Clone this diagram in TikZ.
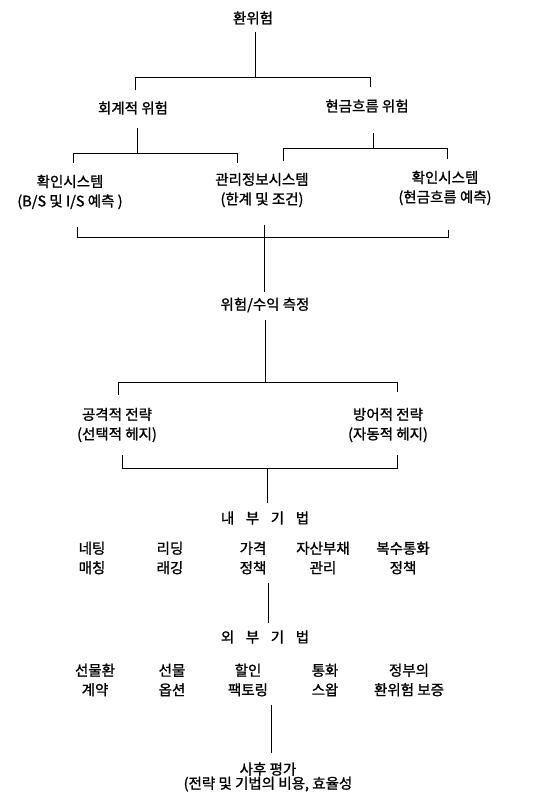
\documentclass[tikz,border=0pt]{standalone}
\usepackage{fontspec}
\newfontfamily\kr[AutoFakeBold=1.2]{Noto Sans CJK KR}
\begin{document}
\begin{tikzpicture}[x=1pt,y=-1pt,
  lbl/.style={font=\kr\bfseries\fontsize{14.5}{19.5}\selectfont, inner sep=0pt, align=center},
  ln/.style={line width=0.8pt, black}]
\useasboundingbox (0,0) rectangle (555,801);
% nodes
\node[lbl] (root) at (253,18) {환위험};
\node[lbl] (acc) at (133,108) {회계적 위험};
\node[lbl] (cash) at (367,106) {현금흐름 위험};
\node[lbl] (chk1) at (70,192) {확인시스템\\(B/S 및 I/S 예측 )};
\node[lbl] (mis) at (262,190) {관리정보시스템\\(한계 및 조건)};
\node[lbl] (chk2) at (445,188) {확인시스템\\(현금흐름 예측)};
\node[lbl] (meas) at (265,305) {위험/수익 측정};
\node[lbl] (off) at (117,425) {공격적 전략\\(선택적 헤지)};
\node[lbl] (def) at (388,425) {방어적 전략\\(자동적 헤지)};
\node[lbl] (intl) at (265,518) {내\hspace{0.8em}부\hspace{0.8em}기\hspace{0.8em}법};
\node[lbl] (i1) at (92,558) {네팅\\매칭};
\node[lbl] (i2) at (170,558) {리딩\\래깅};
\node[lbl] (i3) at (253,558) {가격\\정책};
\node[lbl] (i4) at (323,558) {자산부채\\관리};
\node[lbl] (i5) at (403,558) {복수통화\\정책};
\node[lbl] (ext) at (265,637) {외\hspace{0.8em}부\hspace{0.8em}기\hspace{0.8em}법};
\node[lbl] (e1) at (95,680) {선물환\\계약};
\node[lbl] (e2) at (172,680) {선물\\옵션};
\node[lbl] (e3) at (248,680) {할인\\팩토링};
\node[lbl] (e4) at (325,680) {통화\\스왑};
\node[lbl] (e5) at (409,680) {정부의\\환위험 보증};
\node[lbl, font=\kr\bfseries\fontsize{14.5}{12.5}\selectfont] (post) at (268,777) {사후 평가\\(전략 및 기법의 비용, 효율성};
% junction coordinates
\coordinate (r0) at (255,32);  \coordinate (r1) at (255,77);
\coordinate (rl) at (135,77);  \coordinate (rr) at (370,77);
\coordinate (rl2) at (135,90); \coordinate (rr2) at (370,87);
\coordinate (a0) at (137,128); \coordinate (a1) at (137,153);
\coordinate (al) at (73,153);  \coordinate (ar) at (237,153);
\coordinate (al2) at (73,163); \coordinate (ar2) at (237,163);
\coordinate (c0) at (373,133); \coordinate (c1) at (373,148);
\coordinate (cl) at (283,148); \coordinate (cr) at (447,148);
\coordinate (cl2) at (283,161); \coordinate (cr2) at (447,159);
\coordinate (b0) at (77,227);  \coordinate (bl) at (77,237);
\coordinate (br) at (448,237); \coordinate (b1) at (448,230);
\coordinate (m0) at (264,225); \coordinate (m1) at (264,292);
\coordinate (s0) at (265,320); \coordinate (s1) at (265,382);
\coordinate (sl) at (118,382); \coordinate (sr) at (397,382);
\coordinate (sl2) at (118,395); \coordinate (sr2) at (397,392);
\coordinate (d0) at (122,455); \coordinate (dl) at (122,468);
\coordinate (dr) at (397,468); \coordinate (d1) at (397,455);
\coordinate (t0) at (267,468); \coordinate (t1) at (267,503);
\coordinate (u0) at (268,583); \coordinate (u1) at (268,623);
\coordinate (v0) at (271,705); \coordinate (v1) at (271,753);
% connectors
\draw[ln] (r0) -- (r1);
\draw[ln] (rl2) -- (rl) -- (rr) -- (rr2);
\draw[ln] (a0) -- (a1);
\draw[ln] (al2) -- (al) -- (ar) -- (ar2);
\draw[ln] (c0) -- (c1);
\draw[ln] (cl2) -- (cl) -- (cr) -- (cr2);
\draw[ln] (b0) -- (bl) -- (br) -- (b1);
\draw[ln] (m0) -- (m1);
\draw[ln] (s0) -- (s1);
\draw[ln] (sl2) -- (sl) -- (sr) -- (sr2);
\draw[ln] (d0) -- (dl) -- (dr) -- (d1);
\draw[ln] (t0) -- (t1);
\draw[ln] (u0) -- (u1);
\draw[ln] (v0) -- (v1);
\end{tikzpicture}
\end{document}
